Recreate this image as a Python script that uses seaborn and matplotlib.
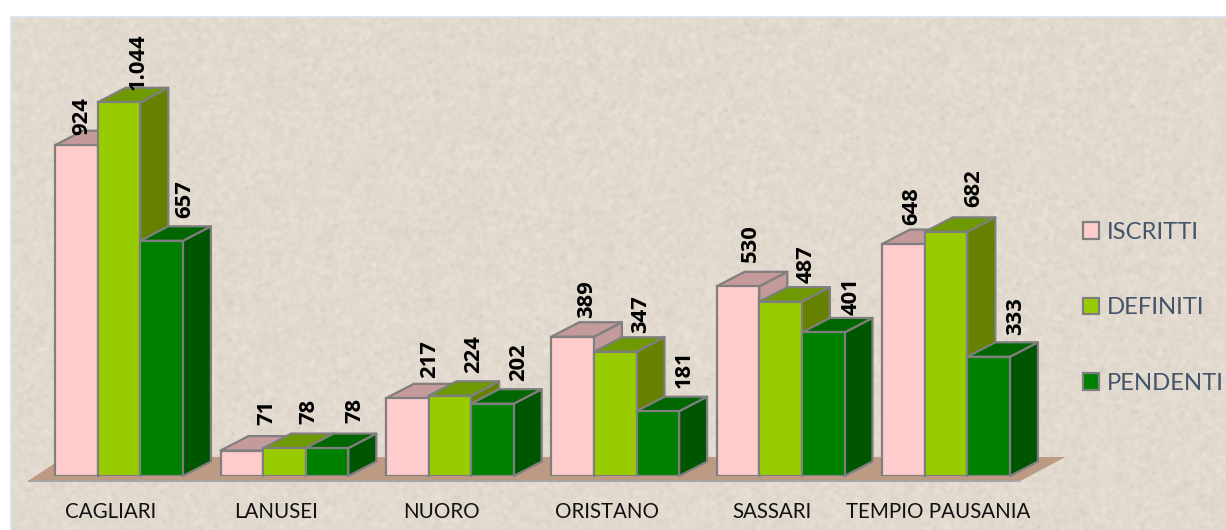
"""Tribunal caseload by district, drawn as a pseudo-3D grouped bar chart."""

from __future__ import annotations

import matplotlib

matplotlib.use("Agg")

import matplotlib.pyplot as plt
import numpy as np
import pandas as pd
import seaborn as sns
from matplotlib.patches import Polygon, Rectangle

CATEGORIES = ["CAGLIARI", "LANUSEI", "NUORO", "ORISTANO", "SASSARI", "TEMPIO PAUSANIA"]
SERIES = ["ISCRITTI", "DEFINITI", "PENDENTI"]
ISCRITTI = [924, 71, 217, 389, 530, 648]
DEFINITI = [1044, 78, 224, 347, 487, 682]
PENDENTI = [657, 78, 202, 181, 401, 333]

# pixel nudges of the value labels from each bar's centre / top, one row per series
LABEL_DX = [[5, 25, 22, 14, 12, 8], [19, 24, 24, 25, 26, 28], [23, 28, 26, 26, 28, 27]]
LABEL_DY = [[10, 26, 20, 19, 24, 19], [12, 24, 23, 19, 19, 25], [23, 25, 23, 23, 17, 22]]

FRONT = ["#FFCCCC", "#99CC00", "#008000"]
TOP = ["#C49A9A", "#6E9900", "#006600"]
SIDE = ["#C49A9A", "#668000", "#005500"]
EDGE = "#7F7F7F"
FLOOR = "#BC9A84"
BACKDROP = "#E2DACE"

W, H = 1226, 530
GROUP_PX = 165.4
UNIT_PX = 0.358
BASE_PX = 476
DEPTH_X = 28 / GROUP_PX
DEPTH_Y = 14.5 / UNIT_PX


def paper_texture(height: int, width: int) -> np.ndarray:
    # decoration only, the chart values never come from here
    rng = np.random.default_rng(7)
    noise = rng.normal(0, 1, (height, width))
    soft = sum(np.roll(np.roll(noise, i, 0), j, 1) for i in range(-2, 3) for j in range(-2, 3)) / 5
    specks = (rng.random((height, width)) > 0.9993).astype(float)
    specks = sum(np.roll(np.roll(specks, i, 0), j, 1) for i in range(3) for j in range(3)) / 2
    base = np.array(matplotlib.colors.to_rgb(BACKDROP))
    img = base[None, None, :] + (soft * 0.010 - specks * 0.05)[:, :, None]
    return np.clip(img, 0, 1)


def main() -> None:
    sns.set_theme(style="white")
    plt.rcParams["font.family"] = ["Lato", "DejaVu Sans"]

    fig = plt.figure(figsize=(W / 100, H / 100), dpi=100, facecolor="white")

    bg = fig.add_axes([10.5 / W, 0, (W - 10.5) / W, (H - 16.5) / H])
    bg.imshow(paper_texture(H - 16, W - 10), aspect="auto", interpolation="bilinear")
    bg.set_axis_off()
    fig.add_artist(Rectangle((10.5 / W, -0.01), 1.1, (H - 16.5) / H + 0.01, transform=fig.transFigure,
                             fill=False, edgecolor="#D9E2F0", linewidth=1.2))

    left = 119 - GROUP_PX / 2
    ax = fig.add_axes([left / W, (H - BASE_PX) / H, 6 * GROUP_PX / W, (BASE_PX - 16) / H])
    ax.patch.set_alpha(0)

    table = pd.DataFrame(
        {
            "sede": CATEGORIES * 3,
            "serie": np.repeat(SERIES, len(CATEGORIES)),
            "valore": ISCRITTI + DEFINITI + PENDENTI,
        }
    )
    sns.barplot(
        data=table, x="sede", y="valore", hue="serie", hue_order=SERIES,
        palette=dict(zip(SERIES, FRONT)), width=3 * 42.6 / GROUP_PX, gap=0, saturation=1,
        edgecolor=EDGE, linewidth=1.6, errorbar=None, ax=ax,
    )
    ax.set_xlim(-0.5, 5.5)
    ax.set_ylim(0, (BASE_PX - 16) / UNIT_PX)

    # floor plate under the bars
    shift = -8.3 / GROUP_PX
    y_front = -5 / UNIT_PX
    y_back = 19 / UNIT_PX
    floor = Polygon(
        [(-0.5 + shift, y_front), (5.5 + shift, y_front), (5.5 + 45 / GROUP_PX + shift, y_back),
         (-0.5 + 28 / GROUP_PX, y_back)],
        closed=True, facecolor=FLOOR, edgecolor="none", clip_on=False, zorder=1,
    )
    ax.add_patch(floor)
    ax.plot([-0.5 + shift, 5.5 + shift], [y_front, y_front], color="#A6A6A6", lw=1.5, clip_on=False,
            zorder=1.5, solid_capstyle="butt")

    # extrude every bar from its own rectangle
    for k, container in enumerate(ax.containers):
        for i, bar in enumerate(container):
            x0, x1 = bar.get_x(), bar.get_x() + bar.get_width()
            top = bar.get_height()
            z = 3 + k
            side = Polygon(
                [(x1, 0), (x1 + DEPTH_X, DEPTH_Y), (x1 + DEPTH_X, top + DEPTH_Y), (x1, top)],
                facecolor=SIDE[k], edgecolor=EDGE, linewidth=1.6, zorder=z, joinstyle="round",
                clip_on=False,
            )
            lid = Polygon(
                [(x0, top), (x0 + DEPTH_X, top + DEPTH_Y), (x1 + DEPTH_X, top + DEPTH_Y), (x1, top)],
                facecolor=TOP[k], edgecolor=EDGE, linewidth=1.6, zorder=z, joinstyle="round",
                clip_on=False,
            )
            ax.add_patch(side)
            ax.add_patch(lid)
            bar.set_zorder(z + 0.5)
            ax.annotate(
                f"{int(top):,}".replace(",", "."),
                xy=(bar.get_x() + bar.get_width() / 2, top),
                xytext=(LABEL_DX[k][i], LABEL_DY[k][i]),
                textcoords="offset pixels", rotation=90, ha="center", va="bottom",
                fontsize=15.8, fontweight="bold", family=["Open Sans", "DejaVu Sans"],
                color="black", zorder=20,
            )

    ax.set_xticks(np.arange(len(CATEGORIES)) + shift, CATEGORIES)
    ax.tick_params(axis="x", length=0, pad=19, labelsize=14.8, labelcolor="#111111")
    ax.set_yticks([])
    ax.set_xlabel("")
    ax.set_ylabel("")
    sns.despine(ax=ax, left=True, bottom=True)

    handles, labels = ax.get_legend_handles_labels()
    ax.legend(
        handles, labels, loc="upper left", bbox_to_anchor=(1083 / W, 1 - 222 / H),
        bbox_transform=fig.transFigure, frameon=False, fontsize=17.2, labelcolor="#44546A",
        handlelength=0.68, handleheight=0.68, handletextpad=0.33, labelspacing=2.28,
        borderpad=0, borderaxespad=0,
    )

    fig.savefig("out.png", dpi=100)
    plt.close(fig)


if __name__ == "__main__":
    main()
